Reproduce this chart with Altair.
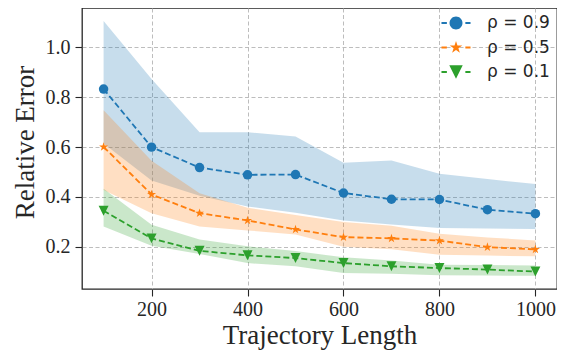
import math
import altair as alt
import pandas as pd

# ---- data ----
traj_len = [100, 200, 300, 400, 500, 600, 700, 800, 900, 1000]
series = ["ρ = 0.9", "ρ = 0.5", "ρ = 0.1"]
colors = ["#1f77b4", "#ff7f0e", "#2ca02c"]

rho09 = [0.833, 0.600, 0.518, 0.489, 0.490, 0.416, 0.391, 0.390, 0.349, 0.333]
rho09_hi = [1.106, 0.873, 0.660, 0.660, 0.643, 0.537, 0.546, 0.493, 0.472, 0.452]
rho09_lo = [0.615, 0.466, 0.405, 0.362, 0.337, 0.306, 0.290, 0.276, 0.274, 0.272]

rho05 = [0.601, 0.410, 0.335, 0.306, 0.270, 0.239, 0.234, 0.225, 0.199, 0.190]
rho05_hi = [0.748, 0.545, 0.415, 0.357, 0.328, 0.300, 0.285, 0.253, 0.238, 0.226]
rho05_lo = [0.428, 0.335, 0.282, 0.266, 0.250, 0.200, 0.190, 0.168, 0.165, 0.162]

rho01 = [0.345, 0.234, 0.184, 0.166, 0.155, 0.135, 0.122, 0.115, 0.109, 0.101]
rho01_hi = [0.433, 0.289, 0.230, 0.202, 0.183, 0.158, 0.145, 0.128, 0.127, 0.125]
rho01_lo = [0.282, 0.204, 0.171, 0.135, 0.122, 0.095, 0.092, 0.086, 0.085, 0.084]

x_ticks = [200, 400, 600, 800, 1000]
y_ticks = [0.2, 0.4, 0.6, 0.8, 1.0]

means = [rho09, rho05, rho01]
his = [rho09_hi, rho05_hi, rho01_hi]
los = [rho09_lo, rho05_lo, rho01_lo]

rows = []
for name, m, h, l in zip(series, means, his, los):
    for xv, mv, hv, lv in zip(traj_len, m, h, l):
        rows.append({"series": name, "x": xv, "y": mv, "hi": hv, "lo": lv})
df = pd.DataFrame(rows)


# ---- marker shapes (unit paths) ----
def fmt(v):
    return f"{v:.3f}"


def poly(pts):
    return "M " + " L ".join(f"{fmt(a)} {fmt(b)}" for a, b in pts) + " Z"


def circle_pts(r, n=32):
    return [(r * math.cos(2 * math.pi * k / n), r * math.sin(2 * math.pi * k / n)) for k in range(n)]


def star_pts(R, ratio=0.382):
    pts = []
    for k in range(10):
        ang = math.radians(-90 + 36 * k)
        rr = R if k % 2 == 0 else R * ratio
        pts.append((rr * math.cos(ang), rr * math.sin(ang)))
    return pts


def tri_down_pts(a):
    return [(-a, -a), (a, -a), (0, a)]


def dash_segments(h=0.08):
    left = [(-1.21, -h), (-0.76, -h), (-0.76, h), (-1.21, h)]
    right = [(0.78, -h), (1.21, -h), (1.21, h), (0.78, h)]
    return poly(left) + " " + poly(right)


plot_shapes = ["circle", poly(star_pts(1.0)), poly(tri_down_pts(1.05))]
legend_shapes = [
    dash_segments() + " " + poly(circle_pts(0.54)),
    dash_segments() + " " + poly(star_pts(0.55)),
    dash_segments() + " " + poly(tri_down_pts(0.56)),
]

# ---- scales / axes ----
TXT = "#262626"
xs = alt.Scale(domain=[55, 1045], nice=False, zero=False)
ys = alt.Scale(domain=[0.031, 1.158], nice=False, zero=False)
cs = alt.Scale(domain=series, range=colors)

common_axis = dict(
    grid=True, gridDash=[4, 2.5], gridColor="#b5b5b5", gridWidth=0.9,
    domain=False, ticks=True, tickSize=7, tickColor=TXT, tickWidth=1.1,
    labelFont="Liberation Serif", labelFontSize=20, labelColor=TXT,
    titleFont="Liberation Serif", titleFontSize=27, titleFontWeight="normal",
    titleColor=TXT, labelOverlap=False, labelFlush=False,
)
x_axis = alt.Axis(values=x_ticks, format="d", title="Trajectory Length",
                  labelPadding=3, titleBaseline="alphabetic", titleY=54,
                  **common_axis)
y_axis = alt.Axis(values=y_ticks, format=".1f", title="Relative Error",
                  labelPadding=5, titleBaseline="alphabetic", titleX=-49,
                  titleY=134, titleAngle=270, **common_axis)

X = alt.X("x:Q", scale=xs, axis=x_axis)

leg = alt.Legend(
    title=None, orient="none", legendX=362, legendY=3, padding=0,
    rowPadding=4.5, symbolSize=576, symbolOpacity=1, symbolStrokeWidth=0,
    labelFont="DejaVu Sans", labelFontSize=17, labelColor=TXT, labelOffset=19,
)

# legend carrier (draws no marks)
legend_layer = alt.Chart(df).transform_filter("datum.x < 0").mark_point(
    filled=True, opacity=1
).encode(
    x=X,
    y=alt.Y("y:Q", scale=ys, axis=y_axis),
    color=alt.Color("series:N", scale=cs, legend=leg),
    shape=alt.Shape("series:N", scale=alt.Scale(domain=series, range=legend_shapes), legend=leg),
)

bands = alt.Chart(df).mark_area(opacity=0.25).encode(
    x=X,
    y=alt.Y("hi:Q", scale=ys, axis=y_axis),
    y2="lo:Q",
    color=alt.Color("series:N", scale=cs, legend=None),
)

lines = alt.Chart(df).mark_line(strokeDash=[6, 3], strokeWidth=1.8).encode(
    x=X,
    y=alt.Y("y:Q", scale=ys, axis=y_axis),
    color=alt.Color("series:N", scale=cs, legend=None),
)

point_layers = []
for name, shp in zip(series, plot_shapes):
    point_layers.append(
        alt.Chart(df).transform_filter(alt.datum.series == name).mark_point(
            shape=shp, filled=True, size=90, opacity=1
        ).encode(
            x=X,
            y=alt.Y("y:Q", scale=ys, axis=y_axis),
            color=alt.Color("series:N", scale=cs, legend=None),
        )
    )

chart = alt.layer(legend_layer, bands, lines, *point_layers).properties(
    width=475, height=281,
    autosize=alt.AutoSizeParams(type="none"),
    padding={"left": 74, "top": 0, "right": 0, "bottom": 61},
    background="white",
).configure_view(stroke=TXT, strokeWidth=1.3)

chart.save("out.html", embed_options={"renderer": "svg", "actions": False})
